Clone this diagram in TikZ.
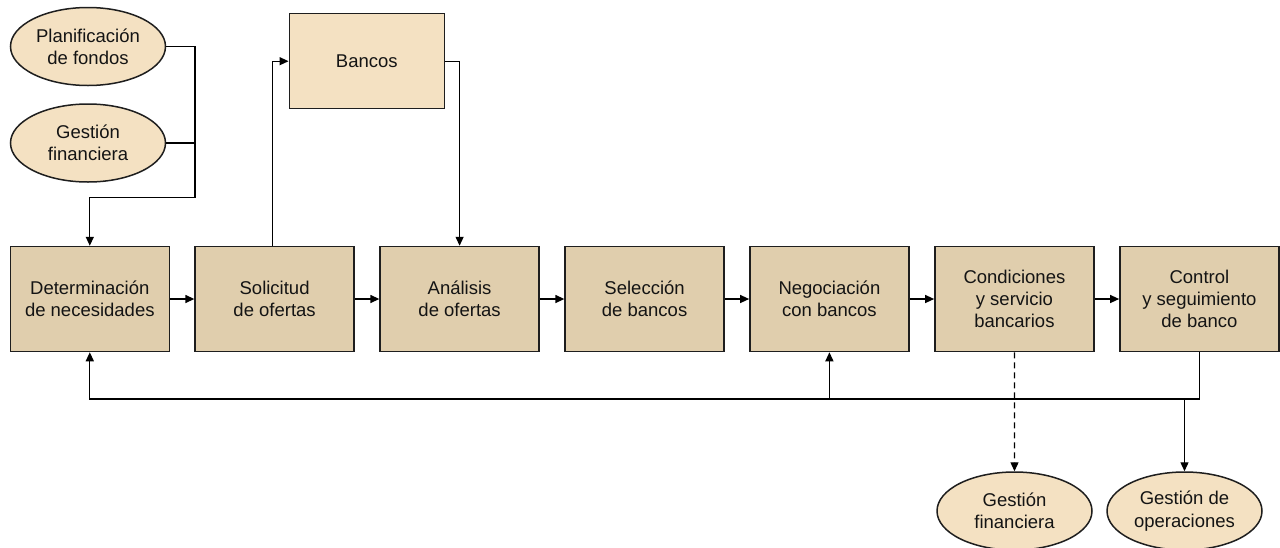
\documentclass[tikz,border=0pt]{standalone}
\usepackage{fontspec}
\setmainfont{Liberation Sans}
\usetikzlibrary{arrows.meta,shapes.geometric}
\definecolor{procfill}{HTML}{E0CEAD}
\definecolor{extfill}{HTML}{F4E1C2}
\definecolor{edge}{HTML}{1E1E1E}
\definecolor{txt}{HTML}{141414}
\tikzset{
  txtfont/.style={font=\fontsize{18.5}{22.3}\selectfont, text=txt, align=center},
  procbox/.style={txtfont, rectangle, draw=edge, line width=1.5pt, fill=procfill,
    minimum width=159pt, minimum height=105pt, inner sep=0pt},
  extbox/.style={txtfont, rectangle, draw=edge, line width=1.5pt, fill=extfill,
    minimum width=155pt, minimum height=95pt, inner sep=0pt},
  extoval/.style={txtfont, ellipse, draw=edge, line width=1.5pt, fill=extfill,
    minimum width=155pt, minimum height=78pt, inner sep=0pt},
  link/.style={draw=black, line width=1.3pt},
  arr/.style={link, -{Triangle[length=9pt,width=8pt]}},
}
\begin{document}
\begin{tikzpicture}[x=1pt,y=-1pt]
\useasboundingbox (0,0) rectangle (1280,547);

% external sources
\node[extoval] (plan) at (88,46.5) {Planificación\\de fondos};
\node[extoval] (gfin) at (88,143) {Gestión\\financiera};
\node[extbox]  (banc) at (366.8,61.2) {Bancos};

% main process chain
\node[procbox] (det) at (89.8,299) {Determinación\\de necesidades};
\node[procbox] (sol) at (274.6,299) {Solicitud\\de ofertas};
\node[procbox] (ana) at (459.6,299) {Análisis\\de ofertas};
\node[procbox] (sel) at (644.6,299) {Selección\\de bancos};
\node[procbox] (neg) at (829.4,299) {Negociación\\con bancos};
\node[procbox] (con) at (1014.4,299) {Condiciones\\y servicio\\bancarios};
\node[procbox] (ctl) at (1199.4,299) {Control\\y seguimiento\\de banco};

% outputs
\node[extoval] (gfo) at (1014.5,511) {Gestión\\financiera};
\node[extoval] (ope) at (1184.5,511) {Gestión de\\operaciones};

% inputs to the first step
\coordinate (jin) at (195,197.5);
\draw[link] (plan.east) -| (jin);
\draw[link] (gfin.east) -- (gfin.east -| jin);
\draw[arr] (jin) -| (det.north);

% bank request loop
\draw[arr] ([xshift=-2pt]sol.north) |- (banc.west);
\draw[arr] (banc.east) -| (ana.north);

% chain arrows
\draw[arr] (det.east) -- (sol.west);
\draw[arr] (sol.east) -- (ana.west);
\draw[arr] (ana.east) -- (sel.west);
\draw[arr] (sel.east) -- (neg.west);
\draw[arr] (neg.east) -- (con.west);
\draw[arr] (con.east) -- (ctl.west);

% feedback from control
\coordinate (fb) at (1199.4,399);
\draw[arr] (ctl.south) |- (det.south |- fb) -- (det.south);
\draw[arr] (neg.south |- fb) -- (neg.south);
\draw[arr] (ope.north |- fb) -- (ope.north);

% dashed output
\draw[arr, dash pattern=on 6pt off 4pt] (con.south) -- (gfo.north);
\end{tikzpicture}
\end{document}
